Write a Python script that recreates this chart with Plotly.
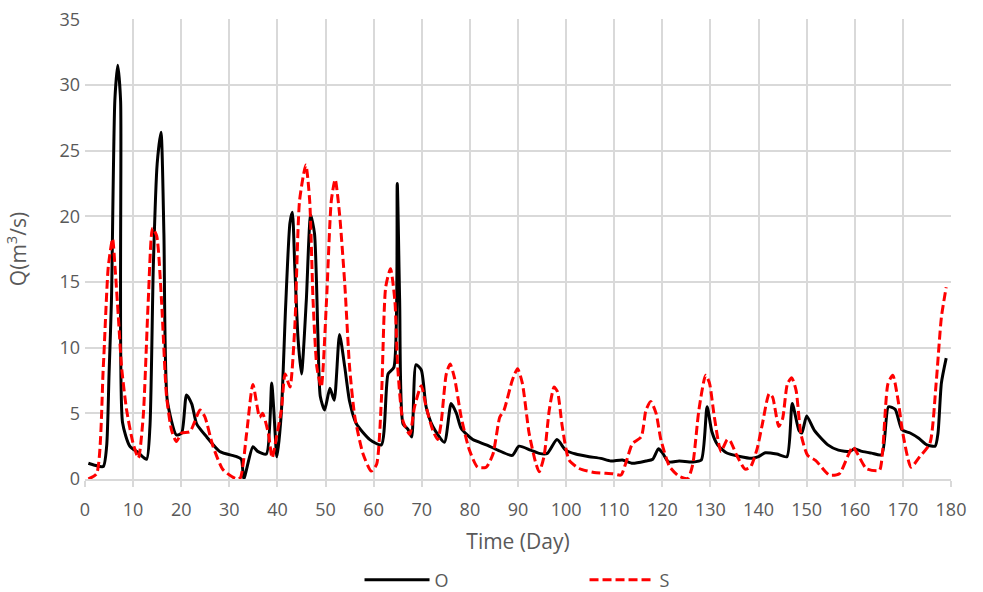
import plotly.graph_objects as go

# Observed (O) series: day, discharge
o_day = [0.7, 2.0, 3.8, 4.5, 5.0, 5.5, 6.2, 6.8, 7.4, 7.8, 9.3, 11.1, 12.8, 13.5, 14.2, 15.0, 15.8, 16.4, 17.1,
         19.0, 20.1, 21.1, 22.2, 23.2, 25.3, 28.0, 31.5, 32.5, 33.0, 34.9, 35.9, 37.7, 38.8, 39.2, 39.9, 40.8,
         41.7, 42.6, 43.1, 43.6, 44.3, 45.0, 46.0, 46.9, 47.7, 48.4, 48.9, 49.8, 50.9, 51.8, 52.9, 54.0,
         55.0, 56.4, 59.2, 61.6, 63.0, 64.2, 64.9, 65.4, 66.1, 67.1, 67.9, 68.8, 69.9, 70.9, 72.3, 74.7,
         76.1, 77.2, 78.2, 80.6, 83.4, 85.8, 88.8, 90.2, 92.6, 94.4, 96.1, 98.1, 99.9, 102.0, 104.8, 107.2,
         109.3, 111.7, 113.8, 116.6, 118.0, 119.2, 120.1, 121.3, 123.5, 126.3, 128.1, 129.3, 130.3, 131.5,
         133.3, 136.1, 138.6, 140.0, 141.4, 143.8, 145.9, 147.0, 148.4, 149.0, 150.0, 151.6, 154.4, 156.6,
         159.0, 159.9, 161.5, 163.5, 165.6, 167.0, 168.4, 169.8, 171.5, 173.3, 175.0, 176.7, 177.3, 178.0, 179.0]
o_q = [1.2, 1.05, 0.95, 2.5, 8.0, 13.6, 28.8, 31.5, 28.8, 4.3, 2.5, 2.0, 1.5, 4.0, 16.2, 24.0, 26.4, 18.7, 6.0,
       3.35, 3.5, 6.4, 5.7, 4.2, 3.2, 2.1, 1.7, 1.5, 0.0, 2.45, 2.1, 1.9, 7.3, 5.5, 1.7, 5.0,
       13.1, 19.5, 20.3, 16.2, 10.6, 8.0, 13.6, 20.1, 18.7, 11.1, 6.3, 5.25, 6.9, 6.0, 11.0, 8.5,
       5.9, 4.2, 3.0, 2.6, 8.0, 8.5, 22.5, 13.6, 4.2, 3.8, 3.2, 8.7, 8.3, 5.5, 4.0, 2.8,
       5.75, 5.0, 3.85, 3.0, 2.6, 2.2, 1.8, 2.5, 2.2, 1.95, 1.95, 3.0, 2.2, 1.9, 1.7, 1.57,
       1.37, 1.45, 1.2, 1.37, 1.5, 2.3, 1.95, 1.3, 1.37, 1.3, 1.45, 5.5, 3.6, 2.6,
       2.0, 1.72, 1.58, 1.7, 2.0, 1.9, 1.7, 5.75, 3.7, 3.5, 4.8, 3.7, 2.6, 2.2,
       2.1, 2.3, 2.1, 1.97, 1.85, 5.5, 5.3, 3.75, 3.5, 3.1, 2.6, 2.5, 3.5, 7.3, 9.2]

# Simulated (S) series: day, discharge
s_day = [0.7, 2.4, 3.8, 4.85, 5.74, 6.23, 6.92, 7.61, 8.65, 10.0, 11.1, 12.1, 13.15, 14.05, 14.9, 15.9, 16.95,
         18.0, 19.0, 20.1, 21.8, 23.9, 24.9, 26.6, 28.7, 31.5, 32.3, 33.6, 34.9, 36.3, 36.9, 38.1, 38.9,
         39.8, 40.8, 41.6, 42.6, 43.6, 44.6, 45.9, 46.7, 47.4, 48.2, 49.1, 50.2, 51.2, 52.0, 52.9, 54.0,
         55.0, 56.1, 57.8, 59.5, 60.6, 61.6, 62.5, 63.5, 64.4, 65.0, 66.1, 67.5, 68.5, 69.9, 70.9, 72.3,
         73.3, 74.0, 75.1, 75.9, 76.8, 78.2, 79.9, 81.6, 83.4, 84.8, 86.2, 87.1, 88.8, 89.9, 90.9, 92.3,
         93.7, 94.4, 95.4, 96.5, 97.5, 98.2, 99.2, 100.6, 102.7, 105.8, 109.7, 111.4, 112.4, 113.8, 115.6,
         116.6, 117.6, 118.7, 119.7, 121.5, 123.5, 125.3, 126.3, 127.6, 129.0, 129.8, 130.8, 132.2, 133.5,
         134.1, 135.5, 137.2, 138.3, 139.7, 140.8, 142.2, 142.9, 144.2, 145.0, 146.0, 146.9, 147.8, 148.8,
         150.2, 151.9, 154.7, 156.8, 158.5, 159.6, 160.6, 162.4, 165.1, 165.8, 166.9, 167.9, 169.0, 170.0,
         171.7, 173.5, 175.6, 176.9, 178.0, 179.0]
s_q = [0.0, 0.4, 8.5, 16.2, 18.3, 16.2, 12.4, 8.5, 5.25, 2.7, 1.6, 4.75, 13.6, 19.1, 18.5, 13.6, 6.3,
       3.7, 2.85, 3.5, 3.6, 5.25, 4.75, 2.5, 0.7, 0.0, 0.1, 3.5, 7.2, 4.7, 5.0, 3.5, 1.6,
       3.2, 5.2, 8.0, 7.0, 11.5, 21.2, 23.9, 21.2, 13.6, 8.5, 7.0, 13.6, 21.2, 22.8, 20.2, 14.8,
       8.5, 4.7, 1.9, 0.6, 1.1, 6.0, 14.6, 16.0, 13.6, 8.5, 4.4, 3.4, 5.5, 7.1, 5.5, 3.7,
       3.0, 4.2, 8.0, 8.75, 7.7, 4.7, 2.2, 0.9, 0.9, 1.9, 4.7, 5.25, 7.5, 8.4, 7.3, 3.5,
       1.2, 0.55, 1.7, 5.25, 7.0, 6.65, 4.0, 1.45, 0.8, 0.5, 0.4, 0.3, 1.2, 2.7, 3.2,
       5.25, 5.9, 5.0, 3.0, 0.95, 0.2, 0.05, 1.07, 5.25, 7.9, 7.3, 4.75, 2.1, 3.0,
       2.9, 1.77, 0.75, 0.9, 2.3, 4.2, 6.5, 6.25, 4.0, 4.6, 7.25, 7.7, 6.75, 3.45,
       1.8, 1.4, 0.3, 0.4, 1.7, 2.45, 1.9, 0.8, 0.65, 2.2, 7.25, 7.9, 6.0, 3.45,
       0.9, 1.7, 2.7, 7.25, 12.3, 14.6]

x_ticks = list(range(0, 181, 10))
y_ticks = list(range(0, 36, 5))

FONT = "Open Sans"
GREY = "#595959"
GRID = "#d9d9d9"

fig = go.Figure()
fig.add_trace(go.Scatter(x=o_day, y=o_q, name="O", mode="lines",
                         line=dict(color="#000000", width=3, shape="spline", smoothing=0.6)))
fig.add_trace(go.Scatter(x=s_day, y=s_q, name="S", mode="lines",
                         line=dict(color="#ff0000", width=3, dash="9px,4px", shape="spline", smoothing=0.6)))

fig.update_layout(
    width=983, height=592,
    margin=dict(l=85, r=32, t=19, b=113, autoexpand=False),
    paper_bgcolor="white", plot_bgcolor="white",
    font=dict(family=FONT, color=GREY, size=18),
    showlegend=True,
    legend=dict(orientation="h", x=0.317, xanchor="left", yref="container", y=0.02, yanchor="middle",
                font=dict(size=18, color=GREY), entrywidth=145, itemwidth=65),
    xaxis=dict(range=[0, 180], tickvals=x_ticks, ticktext=[str(v) for v in x_ticks],
               showgrid=True, gridcolor=GRID, gridwidth=1.5,
               ticks="outside", ticklen=6, tickcolor=GRID, tickwidth=1.5,
               showline=True, linecolor=GRID, linewidth=1.5, zeroline=False,
               tickfont=dict(size=18, color=GREY), ticklabelstandoff=8,
               title=dict(text="Time (Day)", font=dict(size=21, color=GREY), standoff=14)),
    yaxis=dict(range=[0, 35.02], tickvals=y_ticks, ticktext=[str(v) for v in y_ticks],
               showgrid=True, gridcolor=GRID, gridwidth=1.5, zeroline=False, showline=False,
               ticks="", tickfont=dict(size=18, color=GREY), ticklabelstandoff=4,
               title=dict(text="Q(m<sup>3</sup>/s)", font=dict(size=21, color=GREY), standoff=27)),
)

# remove the browser's default 8px body margin so the figure fills the window exactly
fig.write_html("out.html", config={"displayModeBar": False},
               post_script="document.body.style.margin='0px';document.body.style.overflow='hidden';")
